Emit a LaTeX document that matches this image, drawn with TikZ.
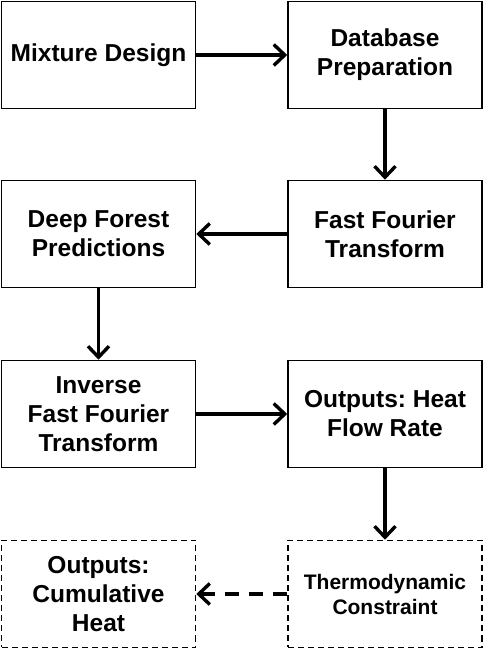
\documentclass[tikz,border=0pt]{standalone}
\usepackage{fontspec}
\setmainfont{Liberation Sans}
\usetikzlibrary{arrows.meta}
\frenchspacing

\begin{document}
\begin{tikzpicture}[x=1pt, y=1pt,
    stage/.style={rectangle, draw, line width=1.6pt, fill=white, minimum width=194pt, minimum height=107pt, align=center, font=\fontsize{24.5}{29}\selectfont\bfseries},
    extra/.style={stage, dashed, dash pattern=on 6pt off 4pt},
    flow/.style={-{Straight Barb[length=11pt, width=21pt, line width=3.4pt]}, line width=3.8pt}]
    \useasboundingbox (0, 0) rectangle (484, 650);

    % Define positions of the stages in two columns
    \node[stage] (mix) at (98.5, 595) {Mixture Design};
    \node[stage] (db) at (385, 595) {Database\\Preparation};
    \node[stage] (fft) at (385, 416) {Fast Fourier\\Transform};
    \node[stage] (df) at (98.5, 416) {Deep Forest\\Predictions};
    \node[stage] (ifft) at (98.5, 236) {Inverse\\Fast Fourier\\Transform};
    \node[stage] (heat) at (385, 236) {Outputs: Heat\\Flow Rate};
    \node[extra, font=\fontsize{21}{25}\selectfont\bfseries] (thermo) at (385, 56) {Thermodynamic\\Constraint};
    \node[extra] (cum) at (98.5, 56) {Outputs:\\Cumulative\\Heat};

    % Draw arrows between consecutive stages
    \draw[flow] (mix) -- (db);
    \draw[flow] (db) -- (fft);
    \draw[flow] (fft) -- (df);
    \draw[flow] (df) -- (ifft);
    \draw[flow] (ifft) -- (heat);
    \draw[flow] (heat) -- (thermo);
    \draw[flow, dash pattern=on 14pt off 10pt] (thermo) -- (cum);
\end{tikzpicture}
\end{document}
